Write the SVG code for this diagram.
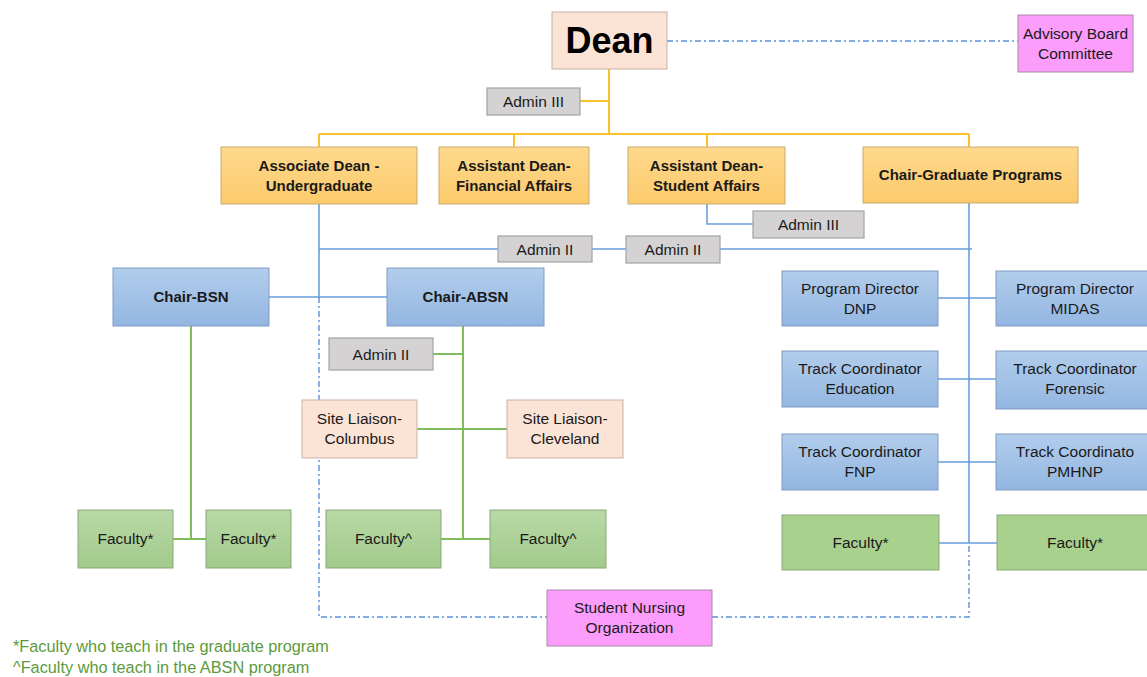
<svg xmlns="http://www.w3.org/2000/svg" width="1147" height="677" viewBox="0 0 1147 677">
<defs>
<linearGradient id="gOr" x1="0" y1="0" x2="0" y2="1"><stop offset="0" stop-color="#ffd98e"/><stop offset="1" stop-color="#fbca6a"/></linearGradient>
<linearGradient id="gBl" x1="0" y1="0" x2="0" y2="1"><stop offset="0" stop-color="#b2cdec"/><stop offset="1" stop-color="#93b6e1"/></linearGradient>
<linearGradient id="gGr" x1="0" y1="0" x2="0" y2="1"><stop offset="0" stop-color="#b8d9a6"/><stop offset="1" stop-color="#a2ca8b"/></linearGradient>
</defs>
<style>
text{font-family:"Liberation Sans",Arial,sans-serif;font-size:15.5px;fill:#1a1a1a;text-anchor:middle}
.b{font-weight:bold;font-size:15px}
.or{fill:url(#gOr);stroke:#c9ab70;stroke-width:1}
.bl{fill:url(#gBl);stroke:#7f9cc2;stroke-width:1}
.gr{fill:url(#gGr);stroke:#8aa878;stroke-width:1}
.grf{fill:#a9d18e;stroke:#8aa878;stroke-width:1}
.gy{fill:#d4d2d2;stroke:#a3a3a3;stroke-width:1.2}
.pe{fill:#fbe3d5;stroke:#c8b3a6;stroke-width:1}
.pk{fill:#fc9cfb;stroke:#a98aa8;stroke-width:1}
.cy{stroke:#f8c22c;stroke-width:2;fill:none}
.cb{stroke:#6a9fdc;stroke-width:1.6;fill:none}
.cg{stroke:#7fbc5b;stroke-width:2;fill:none}
.cd{stroke:#5b8fd8;stroke-width:1.4;fill:none;stroke-dasharray:6 3 2 3}
.fn{text-anchor:start;fill:#5c9a3b;font-size:16.3px}
</style>
<g id="connectors">
<path class="cd" d="M667 41H1018"/>
<path class="cy" d="M609 69V134M580 101H609M319 134H969M319 134V147M514 134V147M707 134V147M969 134V147"/>
<path class="cb" d="M319 204V297M707 204V224H753M319 249H498M592 249H626M720 249H972M969 203V543M269 297H387"/>
<path class="cb" d="M938 298H996M938 379H996M938 462H996M939 543H997"/>
<path class="cg" d="M191 326V539M173 539H206M463 326V539M433 354H463M417 429H507M441 539H490"/>
<path class="cd" d="M319 297V617H547M712 617H969V543"/>
</g>
<g id="dean"><rect class="pe" x="552" y="12" width="115" height="57"/><text x="609.5" y="53" style="font-size:36px;font-weight:bold;fill:#000">Dean</text></g>
<g id="advisory"><rect class="pk" x="1018" y="15" width="115" height="57"/><text x="1075.5" y="39">Advisory Board</text><text x="1075.5" y="59">Committee</text></g>
<g id="admin3a"><rect class="gy" x="487" y="88" width="93" height="27"/><text x="533.5" y="107">Admin III</text></g>
<g id="assocdean"><rect class="or" x="221" y="147" width="196" height="57"/><text class="b" x="319" y="171">Associate Dean -</text><text class="b" x="319" y="191">Undergraduate</text></g>
<g id="asstfin"><rect class="or" x="439" y="147" width="150" height="57"/><text class="b" x="514" y="171">Assistant Dean-</text><text class="b" x="514" y="191">Financial Affairs</text></g>
<g id="asststu"><rect class="or" x="628" y="147" width="157" height="57"/><text class="b" x="706.5" y="171">Assistant Dean-</text><text class="b" x="706.5" y="191">Student Affairs</text></g>
<g id="chairgrad"><rect class="or" x="863" y="147" width="215" height="56"/><text class="b" x="970.5" y="180">Chair-Graduate Programs</text></g>
<g id="admin3b"><rect class="gy" x="753" y="211" width="111" height="27"/><text x="808.5" y="230">Admin III</text></g>
<g id="admin2a"><rect class="gy" x="498" y="236" width="94" height="26"/><text x="545" y="255">Admin II</text></g>
<g id="admin2b"><rect class="gy" x="626" y="236" width="94" height="27"/><text x="673" y="255">Admin II</text></g>
<g id="chairbsn"><rect class="bl" x="113" y="268" width="156" height="58"/><text class="b" x="191" y="302">Chair-BSN</text></g>
<g id="chairabsn"><rect class="bl" x="387" y="268" width="157" height="58"/><text class="b" x="465.5" y="302">Chair-ABSN</text></g>
<g id="admin2c"><rect class="gy" x="329" y="338" width="104" height="32"/><text x="381" y="360">Admin II</text></g>
<g id="sitecol"><rect class="pe" x="302" y="400" width="115" height="58"/><text x="359.5" y="424">Site Liaison-</text><text x="359.5" y="444">Columbus</text></g>
<g id="sitecle"><rect class="pe" x="507" y="400" width="116" height="58"/><text x="565" y="424">Site Liaison-</text><text x="565" y="444">Cleveland</text></g>
<g id="fac1"><rect class="gr" x="78" y="510" width="95" height="58"/><text x="125.5" y="544">Faculty*</text></g>
<g id="fac2"><rect class="gr" x="206" y="510" width="85" height="58"/><text x="248.5" y="544">Faculty*</text></g>
<g id="fac3"><rect class="gr" x="326" y="510" width="115" height="58"/><text x="383.5" y="544">Faculty^</text></g>
<g id="fac4"><rect class="gr" x="490" y="510" width="116" height="58"/><text x="548" y="544">Faculty^</text></g>
<g id="pddnp"><rect class="bl" x="782" y="271" width="156" height="55"/><text x="860" y="294">Program Director</text><text x="860" y="314">DNP</text></g>
<g id="pdmidas"><rect class="bl" x="996" y="271" width="152" height="55"/><text x="1075" y="294">Program Director</text><text x="1075" y="314">MIDAS</text></g>
<g id="tcedu"><rect class="bl" x="782" y="351" width="156" height="56"/><text x="860" y="374">Track Coordinator</text><text x="860" y="394">Education</text></g>
<g id="tcfor"><rect class="bl" x="996" y="351" width="152" height="58"/><text x="1075" y="374">Track Coordinator</text><text x="1075" y="394">Forensic</text></g>
<g id="tcfnp"><rect class="bl" x="782" y="434" width="156" height="56"/><text x="860" y="457">Track Coordinator</text><text x="860" y="477">FNP</text></g>
<g id="tcpmhnp"><rect class="bl" x="996" y="434" width="152" height="56"/><text x="1075" y="457">Track Coordinato</text><text x="1075" y="477">PMHNP</text></g>
<g id="fac5"><rect class="grf" x="782" y="515" width="157" height="55"/><text x="860.5" y="548">Faculty*</text></g>
<g id="fac6"><rect class="grf" x="997" y="515" width="151" height="55"/><text x="1075" y="548">Faculty*</text></g>
<g id="sno"><rect class="pk" x="547" y="590" width="165" height="56"/><text x="629.5" y="613">Student Nursing</text><text x="629.5" y="633">Organization</text></g>
<g id="footnotes"><text class="fn" x="13" y="652">*Faculty who teach in the graduate program</text><text class="fn" x="13" y="673">^Faculty who teach in the ABSN program</text></g>
</svg>
